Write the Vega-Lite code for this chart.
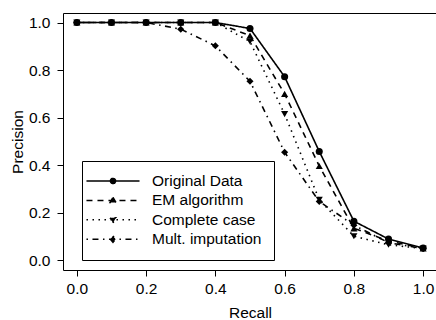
{
  "$schema": "https://vega.github.io/schema/vega-lite/v6.json",
  "width": 374,
  "height": 257,
  "autosize": {"type": "none"},
  "padding": {"left": 63, "top": 13, "right": 0, "bottom": 50},
  "background": "white",
  "config": {
    "view": {"stroke": "black", "strokeWidth": 1},
    "font": "Liberation Sans",
    "axis": {
      "labelFont": "Liberation Sans",
      "labelFontSize": 15.5,
      "labelColor": "black",
      "tickColor": "black",
      "tickSize": 6,
      "tickWidth": 1,
      "domain": false,
      "grid": false,
      "titleFont": "Liberation Sans",
      "titleFontSize": 15.5,
      "titleFontWeight": "normal",
      "titleColor": "black"
    },
    "legend": {
      "labelFont": "Liberation Sans",
      "labelFontSize": 15.5,
      "labelColor": "black",
      "labelLimit": 300
    }
  },
  "data": {
    "values": [
      {"series": "Original Data", "recall": 0.0, "precision": 1.0},
      {"series": "Original Data", "recall": 0.1, "precision": 1.0},
      {"series": "Original Data", "recall": 0.2, "precision": 1.0},
      {"series": "Original Data", "recall": 0.3, "precision": 1.0},
      {"series": "Original Data", "recall": 0.4, "precision": 1.0},
      {"series": "Original Data", "recall": 0.5, "precision": 0.975},
      {"series": "Original Data", "recall": 0.6, "precision": 0.772},
      {"series": "Original Data", "recall": 0.7, "precision": 0.458},
      {"series": "Original Data", "recall": 0.8, "precision": 0.165},
      {"series": "Original Data", "recall": 0.9, "precision": 0.09},
      {"series": "Original Data", "recall": 1.0, "precision": 0.052},
      {"series": "EM algorithm", "recall": 0.0, "precision": 1.0},
      {"series": "EM algorithm", "recall": 0.1, "precision": 1.0},
      {"series": "EM algorithm", "recall": 0.2, "precision": 1.0},
      {"series": "EM algorithm", "recall": 0.3, "precision": 1.0},
      {"series": "EM algorithm", "recall": 0.4, "precision": 1.0},
      {"series": "EM algorithm", "recall": 0.5, "precision": 0.945},
      {"series": "EM algorithm", "recall": 0.6, "precision": 0.7},
      {"series": "EM algorithm", "recall": 0.7, "precision": 0.397},
      {"series": "EM algorithm", "recall": 0.8, "precision": 0.135},
      {"series": "EM algorithm", "recall": 0.9, "precision": 0.082},
      {"series": "EM algorithm", "recall": 1.0, "precision": 0.051},
      {"series": "Complete case", "recall": 0.0, "precision": 1.0},
      {"series": "Complete case", "recall": 0.1, "precision": 1.0},
      {"series": "Complete case", "recall": 0.2, "precision": 1.0},
      {"series": "Complete case", "recall": 0.3, "precision": 1.0},
      {"series": "Complete case", "recall": 0.4, "precision": 1.0},
      {"series": "Complete case", "recall": 0.5, "precision": 0.92},
      {"series": "Complete case", "recall": 0.6, "precision": 0.615},
      {"series": "Complete case", "recall": 0.7, "precision": 0.255},
      {"series": "Complete case", "recall": 0.8, "precision": 0.102},
      {"series": "Complete case", "recall": 0.9, "precision": 0.066},
      {"series": "Complete case", "recall": 1.0, "precision": 0.05},
      {"series": "Mult. imputation", "recall": 0.0, "precision": 1.0},
      {"series": "Mult. imputation", "recall": 0.1, "precision": 1.0},
      {"series": "Mult. imputation", "recall": 0.2, "precision": 1.0},
      {"series": "Mult. imputation", "recall": 0.3, "precision": 0.972},
      {"series": "Mult. imputation", "recall": 0.4, "precision": 0.902},
      {"series": "Mult. imputation", "recall": 0.5, "precision": 0.753},
      {"series": "Mult. imputation", "recall": 0.6, "precision": 0.455},
      {"series": "Mult. imputation", "recall": 0.7, "precision": 0.248},
      {"series": "Mult. imputation", "recall": 0.8, "precision": 0.148},
      {"series": "Mult. imputation", "recall": 0.9, "precision": 0.075},
      {"series": "Mult. imputation", "recall": 1.0, "precision": 0.05}
    ]
  },
  "encoding": {
    "x": {
      "field": "recall",
      "type": "quantitative",
      "scale": {"domain": [-0.04, 1.04], "nice": false, "zero": false},
      "axis": {
        "title": "Recall",
        "values": [0, 0.2, 0.4, 0.6, 0.8, 1.0],
        "format": ".1f",
        "labelPadding": 5,
        "labelFlush": false,
        "titleBaseline": "alphabetic",
        "titleY": 47
      }
    },
    "y": {
      "field": "precision",
      "type": "quantitative",
      "scale": {"domain": [-0.04, 1.04], "nice": false, "zero": false},
      "axis": {
        "title": "Precision",
        "values": [0, 0.2, 0.4, 0.6, 0.8, 1.0],
        "format": ".1f",
        "labelPadding": 7,
        "labelFlush": false,
        "titleBaseline": "alphabetic",
        "titleX": -41
      }
    }
  },
  "layer": [
    {
      "mark": {"type": "line", "color": "black", "strokeWidth": 1.6},
      "encoding": {
        "detail": {"field": "series"},
        "strokeDash": {
          "field": "series",
          "type": "nominal",
          "scale": {
            "domain": ["Original Data", "EM algorithm", "Complete case", "Mult. imputation"],
            "range": [[1, 0], [6, 5], [1.5, 4.5], [1.5, 4.5, 6, 4.5]]
          },
          "legend": {
            "title": null,
            "orient": "none",
            "legendX": 19,
            "legendY": 148,
            "padding": 12,
            "strokeColor": "black",
            "fillColor": "white",
            "cornerRadius": 0,
            "symbolSize": 196,
            "symbolStrokeWidth": 1.5,
            "symbolFillColor": "black",
            "symbolStrokeColor": "black",
            "symbolType": {"expr": "datum.value === 'Original Data' ? 'M-3.79,0L3.79,0M0.37,0A0.37,0.37,0,1,1,-0.37,0A0.37,0.37,0,1,1,0.37,0Z' : datum.value === 'EM algorithm' ? 'M-3.79,0L3.79,0M0,-0.45L0.42,0.3L-0.42,0.3Z' : datum.value === 'Complete case' ? 'M-3.79,0L3.79,0M0,0.45L0.42,-0.3L-0.42,-0.3Z' : 'M-3.79,0L3.79,0M0,-0.45L0.38,0L0,0.45L-0.38,0Z'"},
            "symbolOffset": 11,
            "labelOffset": 31,
            "rowPadding": 2.4
          }
        }
      }
    },
    {
      "mark": {"type": "point", "filled": true, "color": "black", "size": 50, "opacity": 1},
      "encoding": {
        "shape": {
          "field": "series",
          "type": "nominal",
          "scale": {
            "domain": ["Mult. imputation", "Complete case", "EM algorithm", "Original Data"],
            "range": ["diamond", "triangle-down", "triangle-up", "circle"]
          },
          "legend": null
        }
      }
    }
  ]
}
